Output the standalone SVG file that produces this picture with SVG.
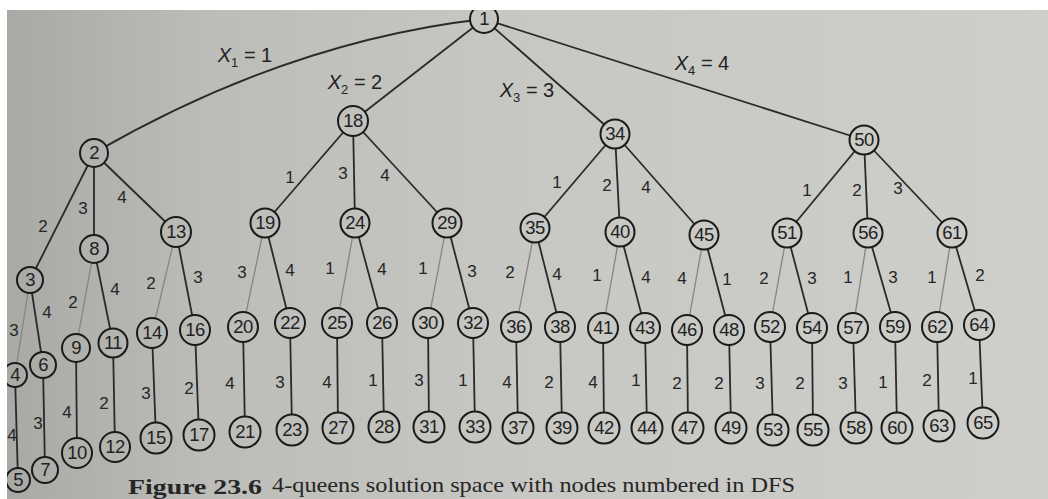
<svg xmlns="http://www.w3.org/2000/svg" width="1048" height="499" viewBox="0 0 1048 499">
<defs>
<linearGradient id="bg" gradientUnits="userSpaceOnUse" x1="0" y1="0" x2="1048" y2="0">
<stop offset="0" stop-color="#a8a8a4"/>
<stop offset="0.2" stop-color="#bcbcb8"/>
<stop offset="0.5" stop-color="#c7c7c3"/>
<stop offset="1" stop-color="#cecfcb"/>
</linearGradient>
<style>
.n circle{fill:url(#bg);stroke:#1a1a1a;stroke-width:2}
.n text{font-family:"Liberation Sans",Arial,sans-serif;font-size:18.5px;fill:#222;text-anchor:middle;letter-spacing:-0.6px}
.e line,.e path{stroke:#2a2a2a;stroke-width:1.8;fill:none}
.e .lt{stroke:#858582;stroke-width:1.3}
.l text{font-family:"Liberation Sans",Arial,sans-serif;font-size:17px;fill:#262626;text-anchor:middle}
.l text.x{font-size:20px;fill:#222}
.cap{font-family:"Liberation Serif","DejaVu Serif",serif;font-size:21px;fill:#262626}
</style>
</defs>
<rect x="0" y="0" width="1048" height="499" fill="url(#bg)"/>

<g id="connectors" class="e">
<path d="M484,19 Q288,41 94,153"/>
<line x1="484" y1="19" x2="353" y2="121"/>
<line x1="484" y1="19" x2="615" y2="134"/>
<line x1="484" y1="19" x2="864" y2="140"/>
<line x1="94" y1="153" x2="30" y2="280"/>
<line x1="94" y1="153" x2="94" y2="249"/>
<line x1="94" y1="153" x2="176" y2="232"/>
<line x1="353" y1="121" x2="265" y2="223"/>
<line x1="353" y1="121" x2="355" y2="223"/>
<line x1="353" y1="121" x2="447" y2="223"/>
<line x1="615" y1="134" x2="535" y2="228"/>
<line x1="615" y1="134" x2="620" y2="232"/>
<line x1="615" y1="134" x2="704" y2="235"/>
<line x1="864" y1="140" x2="787" y2="233"/>
<line x1="864" y1="140" x2="868" y2="233"/>
<line x1="864" y1="140" x2="952" y2="233"/>
<line class="lt" x1="30" y1="280" x2="15" y2="375"/>
<line x1="30" y1="280" x2="43" y2="365"/>
<line class="lt" x1="94" y1="249" x2="76" y2="348"/>
<line x1="94" y1="249" x2="113" y2="343"/>
<line class="lt" x1="176" y1="232" x2="152" y2="333"/>
<line x1="176" y1="232" x2="195" y2="330"/>
<line class="lt" x1="265" y1="223" x2="243" y2="327"/>
<line x1="265" y1="223" x2="290" y2="323"/>
<line class="lt" x1="355" y1="223" x2="337" y2="323"/>
<line x1="355" y1="223" x2="382" y2="323"/>
<line class="lt" x1="447" y1="223" x2="428" y2="323"/>
<line x1="447" y1="223" x2="473" y2="323"/>
<line class="lt" x1="535" y1="228" x2="516" y2="327"/>
<line x1="535" y1="228" x2="560" y2="327"/>
<line class="lt" x1="620" y1="232" x2="603" y2="328"/>
<line x1="620" y1="232" x2="645" y2="328"/>
<line class="lt" x1="704" y1="235" x2="687" y2="330"/>
<line x1="704" y1="235" x2="729" y2="330"/>
<line class="lt" x1="787" y1="233" x2="770" y2="327"/>
<line x1="787" y1="233" x2="812" y2="328"/>
<line class="lt" x1="868" y1="233" x2="853" y2="328"/>
<line x1="868" y1="233" x2="895" y2="327"/>
<line class="lt" x1="952" y1="233" x2="937" y2="327"/>
<line x1="952" y1="233" x2="979" y2="325"/>
<line x1="15" y1="375" x2="18" y2="480"/>
<line x1="43" y1="365" x2="45" y2="470"/>
<line x1="76" y1="348" x2="77" y2="453"/>
<line x1="113" y1="343" x2="115" y2="447"/>
<line x1="152" y1="333" x2="156" y2="438"/>
<line x1="195" y1="330" x2="199" y2="435"/>
<line x1="243" y1="327" x2="245" y2="432"/>
<line x1="290" y1="323" x2="292" y2="430"/>
<line x1="337" y1="323" x2="338" y2="428"/>
<line x1="382" y1="323" x2="384" y2="427"/>
<line x1="428" y1="323" x2="429" y2="427"/>
<line x1="473" y1="323" x2="475" y2="427"/>
<line x1="516" y1="327" x2="518" y2="428"/>
<line x1="560" y1="327" x2="562" y2="428"/>
<line x1="603" y1="328" x2="604" y2="428"/>
<line x1="645" y1="328" x2="647" y2="428"/>
<line x1="687" y1="330" x2="688" y2="428"/>
<line x1="729" y1="330" x2="731" y2="428"/>
<line x1="770" y1="327" x2="773" y2="430"/>
<line x1="812" y1="328" x2="813" y2="430"/>
<line x1="853" y1="328" x2="856" y2="428"/>
<line x1="895" y1="327" x2="897" y2="428"/>
<line x1="937" y1="327" x2="939" y2="426"/>
<line x1="979" y1="325" x2="983" y2="423"/>
</g>

<g id="labels" class="l">
<text class="x" x="245" y="62"><tspan font-style="italic">X</tspan><tspan font-size="13" dy="5">1</tspan><tspan dy="-5"> = 1</tspan></text>
<text class="x" x="355" y="89"><tspan font-style="italic">X</tspan><tspan font-size="13" dy="5">2</tspan><tspan dy="-5"> = 2</tspan></text>
<text class="x" x="527" y="97"><tspan font-style="italic">X</tspan><tspan font-size="13" dy="5">3</tspan><tspan dy="-5"> = 3</tspan></text>
<text class="x" x="702" y="70"><tspan font-style="italic">X</tspan><tspan font-size="13" dy="5">4</tspan><tspan dy="-5"> = 4</tspan></text>
<text x="43" y="232">2</text><text x="83" y="214">3</text><text x="122" y="203">4</text>
<text x="290" y="183">1</text><text x="343" y="179">3</text><text x="385" y="181">4</text>
<text x="557" y="188">1</text><text x="607" y="191">2</text><text x="646" y="193">4</text>
<text x="807" y="196">1</text><text x="857" y="196">2</text><text x="898" y="194">3</text>
<text x="14" y="336">3</text><text x="47" y="318">4</text>
<text x="73" y="308">2</text><text x="115" y="295">4</text>
<text x="151" y="289">2</text><text x="198" y="283">3</text>
<text x="242" y="278">3</text><text x="290" y="276">4</text>
<text x="330" y="274">1</text><text x="382" y="275">4</text>
<text x="423" y="274">1</text><text x="472" y="277">3</text>
<text x="510" y="278">2</text><text x="557" y="280">4</text>
<text x="597" y="281">1</text><text x="646" y="283">4</text>
<text x="682" y="284">4</text><text x="727" y="285">1</text>
<text x="764" y="284">2</text><text x="812" y="284">3</text>
<text x="848" y="283">1</text><text x="893" y="283">3</text>
<text x="932" y="283">1</text><text x="980" y="281">2</text>
<text x="12" y="441">4</text><text x="38" y="429">3</text>
<text x="67" y="418">4</text><text x="104" y="409">2</text>
<text x="146" y="399">3</text><text x="189" y="394">2</text>
<text x="230" y="389">4</text><text x="280" y="388">3</text>
<text x="327" y="388">4</text><text x="373" y="386">1</text>
<text x="419" y="386">3</text><text x="463" y="386">1</text>
<text x="507" y="388">4</text><text x="549" y="388">2</text>
<text x="593" y="388">4</text><text x="636" y="386">1</text>
<text x="677" y="389">2</text><text x="719" y="389">2</text>
<text x="760" y="389">3</text><text x="800" y="389">2</text>
<text x="843" y="389">3</text><text x="883" y="388">1</text>
<text x="927" y="386">2</text><text x="973" y="384">1</text>
</g>

<g id="node-1" class="n"><circle cx="484" cy="19" r="14"/><text x="484" y="25">1</text></g>
<g id="node-2" class="n"><circle cx="94" cy="153" r="14"/><text x="94" y="159">2</text></g>
<g id="node-18" class="n"><circle cx="353" cy="121" r="15"/><text x="353" y="127">18</text></g>
<g id="node-34" class="n"><circle cx="615" cy="134" r="14.5"/><text x="615" y="140">34</text></g>
<g id="node-50" class="n"><circle cx="864" cy="140" r="14.5"/><text x="864" y="146">50</text></g>
<g id="node-3" class="n"><circle cx="30" cy="280" r="13"/><text x="30" y="286">3</text></g>
<g id="node-8" class="n"><circle cx="94" cy="249" r="14"/><text x="94" y="255">8</text></g>
<g id="node-13" class="n"><circle cx="176" cy="232" r="15"/><text x="176" y="238">13</text></g>
<g id="node-19" class="n"><circle cx="265" cy="223" r="14.5"/><text x="265" y="229">19</text></g>
<g id="node-24" class="n"><circle cx="355" cy="223" r="14.5"/><text x="355" y="229">24</text></g>
<g id="node-29" class="n"><circle cx="447" cy="223" r="14.5"/><text x="447" y="229">29</text></g>
<g id="node-35" class="n"><circle cx="535" cy="228" r="14.5"/><text x="535" y="234">35</text></g>
<g id="node-40" class="n"><circle cx="620" cy="232" r="14.5"/><text x="620" y="238">40</text></g>
<g id="node-45" class="n"><circle cx="704" cy="235" r="14.5"/><text x="704" y="241">45</text></g>
<g id="node-51" class="n"><circle cx="787" cy="233" r="14.5"/><text x="787" y="239">51</text></g>
<g id="node-56" class="n"><circle cx="868" cy="233" r="14.5"/><text x="868" y="239">56</text></g>
<g id="node-61" class="n"><circle cx="952" cy="233" r="14.5"/><text x="952" y="239">61</text></g>
<g id="node-4" class="n"><circle cx="15" cy="375" r="12"/><text x="15" y="381">4</text></g>
<g id="node-6" class="n"><circle cx="43" cy="365" r="13"/><text x="43" y="371">6</text></g>
<g id="node-9" class="n"><circle cx="76" cy="348" r="14"/><text x="76" y="354">9</text></g>
<g id="node-11" class="n"><circle cx="113" cy="343" r="14.5"/><text x="113" y="349">11</text></g>
<g id="node-14" class="n"><circle cx="152" cy="333" r="15"/><text x="152" y="339">14</text></g>
<g id="node-16" class="n"><circle cx="195" cy="330" r="15"/><text x="195" y="336">16</text></g>
<g id="node-20" class="n"><circle cx="243" cy="327" r="15"/><text x="243" y="333">20</text></g>
<g id="node-22" class="n"><circle cx="290" cy="323" r="15"/><text x="290" y="329">22</text></g>
<g id="node-25" class="n"><circle cx="337" cy="323" r="15"/><text x="337" y="329">25</text></g>
<g id="node-26" class="n"><circle cx="382" cy="323" r="15"/><text x="382" y="329">26</text></g>
<g id="node-30" class="n"><circle cx="428" cy="323" r="15"/><text x="428" y="329">30</text></g>
<g id="node-32" class="n"><circle cx="473" cy="323" r="15"/><text x="473" y="329">32</text></g>
<g id="node-36" class="n"><circle cx="516" cy="327" r="15"/><text x="516" y="333">36</text></g>
<g id="node-38" class="n"><circle cx="560" cy="327" r="15"/><text x="560" y="333">38</text></g>
<g id="node-41" class="n"><circle cx="603" cy="328" r="15"/><text x="603" y="334">41</text></g>
<g id="node-43" class="n"><circle cx="645" cy="328" r="15"/><text x="645" y="334">43</text></g>
<g id="node-46" class="n"><circle cx="687" cy="330" r="15"/><text x="687" y="336">46</text></g>
<g id="node-48" class="n"><circle cx="729" cy="330" r="15"/><text x="729" y="336">48</text></g>
<g id="node-52" class="n"><circle cx="770" cy="327" r="15"/><text x="770" y="333">52</text></g>
<g id="node-54" class="n"><circle cx="812" cy="328" r="15"/><text x="812" y="334">54</text></g>
<g id="node-57" class="n"><circle cx="853" cy="328" r="15"/><text x="853" y="334">57</text></g>
<g id="node-59" class="n"><circle cx="895" cy="327" r="15"/><text x="895" y="333">59</text></g>
<g id="node-62" class="n"><circle cx="937" cy="327" r="15"/><text x="937" y="333">62</text></g>
<g id="node-64" class="n"><circle cx="979" cy="325" r="15"/><text x="979" y="331">64</text></g>
<g id="node-5" class="n"><circle cx="18" cy="480" r="12"/><text x="18" y="486">5</text></g>
<g id="node-7" class="n"><circle cx="45" cy="470" r="13"/><text x="45" y="476">7</text></g>
<g id="node-10" class="n"><circle cx="77" cy="453" r="15"/><text x="77" y="459">10</text></g>
<g id="node-12" class="n"><circle cx="115" cy="447" r="15"/><text x="115" y="453">12</text></g>
<g id="node-15" class="n"><circle cx="156" cy="438" r="15.5"/><text x="156" y="444">15</text></g>
<g id="node-17" class="n"><circle cx="199" cy="435" r="15.5"/><text x="199" y="441">17</text></g>
<g id="node-21" class="n"><circle cx="245" cy="432" r="15.5"/><text x="245" y="438">21</text></g>
<g id="node-23" class="n"><circle cx="292" cy="430" r="15.5"/><text x="292" y="436">23</text></g>
<g id="node-27" class="n"><circle cx="338" cy="428" r="15.5"/><text x="338" y="434">27</text></g>
<g id="node-28" class="n"><circle cx="384" cy="427" r="15.5"/><text x="384" y="433">28</text></g>
<g id="node-31" class="n"><circle cx="429" cy="427" r="15.5"/><text x="429" y="433">31</text></g>
<g id="node-33" class="n"><circle cx="475" cy="427" r="15.5"/><text x="475" y="433">33</text></g>
<g id="node-37" class="n"><circle cx="518" cy="428" r="15.5"/><text x="518" y="434">37</text></g>
<g id="node-39" class="n"><circle cx="562" cy="428" r="15.5"/><text x="562" y="434">39</text></g>
<g id="node-42" class="n"><circle cx="604" cy="428" r="15.5"/><text x="604" y="434">42</text></g>
<g id="node-44" class="n"><circle cx="647" cy="428" r="15.5"/><text x="647" y="434">44</text></g>
<g id="node-47" class="n"><circle cx="688" cy="428" r="15.5"/><text x="688" y="434">47</text></g>
<g id="node-49" class="n"><circle cx="731" cy="428" r="15.5"/><text x="731" y="434">49</text></g>
<g id="node-53" class="n"><circle cx="773" cy="430" r="15.5"/><text x="773" y="436">53</text></g>
<g id="node-55" class="n"><circle cx="813" cy="430" r="15.5"/><text x="813" y="436">55</text></g>
<g id="node-58" class="n"><circle cx="856" cy="428" r="15.5"/><text x="856" y="434">58</text></g>
<g id="node-60" class="n"><circle cx="897" cy="428" r="15.5"/><text x="897" y="434">60</text></g>
<g id="node-63" class="n"><circle cx="939" cy="426" r="15.5"/><text x="939" y="432">63</text></g>
<g id="node-65" class="n"><circle cx="983" cy="423" r="15.5"/><text x="983" y="429">65</text></g>

<g id="caption">
<text class="cap" x="128" y="494" font-weight="bold" textLength="134" lengthAdjust="spacingAndGlyphs">Figure 23.6</text>
<text class="cap" x="272" y="492" textLength="523" lengthAdjust="spacingAndGlyphs">4-queens solution space with nodes numbered in DFS</text>
</g>

<rect x="0" y="0" width="1048" height="10" fill="#ffffff"/>
<rect x="0" y="0" width="7" height="499" fill="#ffffff"/>
</svg>
